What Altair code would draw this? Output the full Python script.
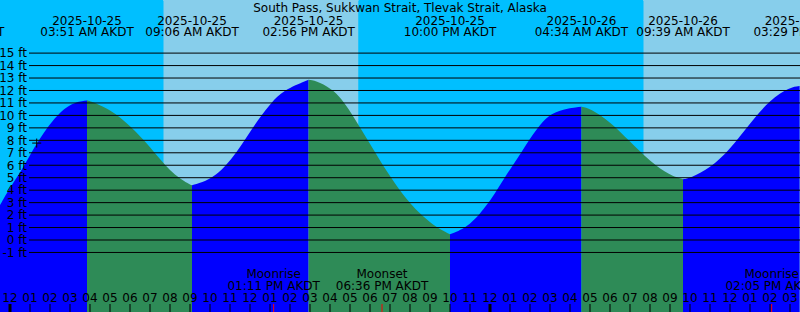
import altair as alt
import pandas as pd

FONT = "DejaVu Sans"
W, H = 800, 312
XDOM = [-0.5, 39.5]          # hours since 2025-10-25 00:00 AKDT
YDOM = [-5.778, 19.262]      # feet

# ---- tide curve (hours, feet) ----
tide_hours = [-0.5, 0, 0.73, 1.06, 1.44, 1.86, 2.34, 3.06, 3.85,
              4, 5, 6, 7, 8, 9, 9.1,
              9.81, 10.31, 10.81, 11.31, 11.73, 12.14, 12.56, 13.06, 13.64, 14.93,
              15.48, 16.2, 16.73, 17.14, 17.51, 17.89, 18.27, 18.64, 19.06, 19.48, 19.98,
              20.56, 21.31, 22.0,
              23, 23.94, 24.34, 24.73, 25.14, 25.56, 25.94, 26.39, 26.89, 27.64, 28.57,
              29, 30, 31, 32, 33, 33.65,
              34, 35, 36, 37, 38, 39, 39.48]
tide_ft = [2.8, 4.2, 6.0, 7.0, 8.0, 9.0, 10.0, 11.0, 11.2,
           11.15, 10.5, 9.2, 7.5, 5.45, 4.42, 4.4,
           4.74, 5.22, 6.0, 7.0, 8.0, 9.0, 10.0, 11.0, 12.0, 12.86,
           12.7, 12.0, 11.0, 10.0, 9.0, 8.0, 7.0, 6.0, 5.0, 4.0, 3.0,
           2.0, 1.0, 0.46,
           1.1, 3.0, 4.0, 5.0, 6.0, 7.0, 8.0, 9.0, 10.0, 10.5, 10.7,
           10.58, 9.5, 7.9, 6.3, 5.17, 4.88,
           4.96, 5.76, 7.26, 9.38, 11.25, 12.27, 12.35]

# ---- high / low tide events ----
ext_hours = [-2.6, 3.85, 9.10, 14.93, 22.0, 28.57, 33.65, 39.48]
ext_dates = ["2025-10-24", "2025-10-25", "2025-10-25", "2025-10-25", "2025-10-25",
             "2025-10-26", "2025-10-26", "2025-10-26"]
ext_times = ["09:24 PM AKDT", "03:51 AM AKDT", "09:06 AM AKDT", "02:56 PM AKDT",
             "10:00 PM AKDT", "04:34 AM AKDT", "09:39 AM AKDT", "03:29 PM AKDT"]

# ---- day / night ----
sun_start = [-0.5, 7.675, 17.425, 31.675]
sun_end = [7.675, 17.425, 31.675, 39.5]
sun_kind = ["night", "day", "night", "day"]

# ---- moon events ----
moon_hours = [13.183, 18.6, 38.083]
moon_names = ["Moonrise", "Moonset", "Moonrise"]
moon_times = ["01:11 PM AKDT", "06:36 PM AKDT", "02:05 PM AKDT"]

# ---- axes ----
ft_levels = list(range(-1, 16))
hour_ticks = list(range(0, 40))
hour_labels = ["12", "01", "02", "03", "04", "05", "06", "07", "08", "09", "10", "11",
               "12", "01", "02", "03", "04", "05", "06", "07", "08", "09", "10", "11",
               "12", "01", "02", "03", "04", "05", "06", "07", "08", "09", "10", "11",
               "12", "01", "02", "03"]
midnights = [0, 24]

marker_h = [1.335]
marker_ft = [7.78]

title_text = "South Pass, Sukkwan Strait, Tlevak Strait, Alaska"

# ---- build tables ----
bounds = [tide_hours[0]] + [h for h in ext_hours if tide_hours[0] < h <= tide_hours[-1]]
rows = []
for i in range(len(bounds) - 1):
    a, b = bounds[i], bounds[i + 1]
    pts = [(h, f) for h, f in zip(tide_hours, tide_ft) if a <= h <= b]
    d = "rise" if pts[-1][1] > pts[0][1] else "fall"
    for h, f in pts:
        rows.append({"h": h, "ft": f, "seg": i, "dir": d})
tide_df = pd.DataFrame(rows)

xs = alt.Scale(domain=XDOM, nice=False, zero=False)
ys = alt.Scale(domain=YDOM, nice=False, zero=False)
X = lambda f: alt.X(f, type="quantitative", scale=xs, axis=None)
Y = lambda f: alt.Y(f, type="quantitative", scale=ys, axis=None, stack=None)

sun_df = pd.DataFrame({"a": sun_start, "b": sun_end, "k": sun_kind})
bg = alt.Chart(sun_df).mark_rect(clip=True).encode(
    x=X("a"), x2="b", y=alt.value(0), y2=alt.value(H),
    color=alt.Color("k:N", scale=alt.Scale(domain=["night", "day"],
                                           range=["#00BFFF", "#87CEEB"]), legend=None))

tide = alt.Chart(tide_df).mark_area(interpolate="basis", clip=True).encode(
    x=X("h"), y=Y("ft"), y2=alt.value(H), detail="seg:N",
    fill=alt.Fill("dir:N", scale=alt.Scale(domain=["rise", "fall"],
                                           range=["#0000FF", "#2E8B57"]), legend=None))

lvl_df = pd.DataFrame({"ft": ft_levels, "lab": [f"{v} ft" for v in ft_levels]})
grid = alt.Chart(lvl_df).mark_rule(color="black", strokeWidth=1).encode(
    x=alt.value(29), x2=alt.value(W), y=Y("ft"))
ylab = alt.Chart(lvl_df).mark_text(font=FONT, fontSize=12, align="right",
                                   baseline="alphabetic", dy=4.3, color="black").encode(
    x=alt.value(27), y=Y("ft"), text="lab:N")

ext_df = pd.DataFrame({"h": ext_hours, "d": ext_dates, "t": ext_times})
top1 = alt.Chart(ext_df).mark_text(font=FONT, fontSize=12, align="center",
                                   baseline="alphabetic", color="black", clip=True).encode(
    x=X("h"), y=alt.value(25), text="d:N")
top2 = alt.Chart(ext_df).mark_text(font=FONT, fontSize=12, align="center",
                                   baseline="alphabetic", color="black", clip=True).encode(
    x=X("h"), y=alt.value(36), text="t:N")

title = alt.Chart(pd.DataFrame({"t": [title_text]})).mark_text(
    font=FONT, fontSize=12, align="center", baseline="alphabetic", color="black").encode(
    x=alt.value(W / 2), y=alt.value(12), text="t:N")

hr_df = pd.DataFrame({"h": hour_ticks, "lab": hour_labels,
                      "w": [3 if h in midnights else 1 for h in hour_ticks]})
hlab = alt.Chart(hr_df).mark_text(font=FONT, fontSize=12, align="center",
                                  baseline="alphabetic", color="black", clip=True).encode(
    x=X("h"), y=alt.value(302), text="lab:N")
hticks = alt.Chart(hr_df).mark_rule(color="black").encode(
    x=X("h"), y=alt.value(304), y2=alt.value(H),
    strokeWidth=alt.StrokeWidth("w:Q", scale=None))

moon_df = pd.DataFrame({"h": moon_hours, "n": moon_names, "t": moon_times})
mticks = alt.Chart(moon_df).mark_rule(color="#FF0000", strokeWidth=1).encode(
    x=X("h"), y=alt.value(304), y2=alt.value(H))
mlab1 = alt.Chart(moon_df).mark_text(font=FONT, fontSize=12, align="center",
                                     baseline="alphabetic", color="black", clip=True).encode(
    x=X("h"), y=alt.value(278), text="n:N")
mlab2 = alt.Chart(moon_df).mark_text(font=FONT, fontSize=12, align="center",
                                     baseline="alphabetic", color="black", clip=True).encode(
    x=X("h"), y=alt.value(289.5), text="t:N")

mark_df = pd.DataFrame({"h": marker_h, "ft": marker_ft})
cross = alt.Chart(mark_df).mark_point(shape="M-1,0H1M0,-1V1", size=81, filled=False,
                                      stroke="black", strokeWidth=1, opacity=1).encode(
    x=X("h"), y=Y("ft"))

chart = alt.layer(bg, tide, grid, ylab, top1, top2, title, hlab, hticks, mticks,
                  mlab1, mlab2, cross).properties(
    width=W, height=H, autosize=alt.AutoSizeParams(type="none"), padding=0
).configure_view(stroke=None).configure(background="#00BFFF")

chart.save("out.html", embed_options={"renderer": "svg", "actions": False})
